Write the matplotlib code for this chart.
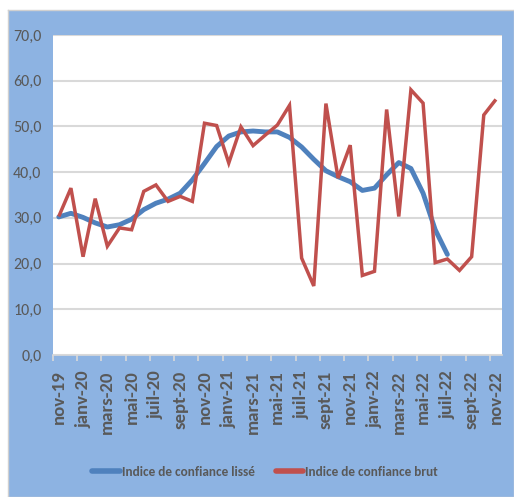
import matplotlib
matplotlib.use("Agg")
import matplotlib.pyplot as plt
from matplotlib import font_manager
import numpy as np

fam_names = {f.name for f in font_manager.fontManager.ttflist}
FAMILY = ['DejaVu Sans']
for cand in ['Carlito', 'Liberation Sans Narrow', 'Roboto Condensed', 'Open Sans Condensed',
             'Arial Narrow', 'Roboto', 'Liberation Sans']:
    if cand in fam_names:
        FAMILY = [cand, 'DejaVu Sans']
        break
plt.rcParams['font.family'] = FAMILY

months = ["nov-19", "déc-19", "janv-20", "févr-20", "mars-20", "avr-20", "mai-20", "juin-20",
          "juil-20", "août-20", "sept-20", "oct-20", "nov-20", "déc-20", "janv-21", "févr-21",
          "mars-21", "avr-21", "mai-21", "juin-21", "juil-21", "août-21", "sept-21", "oct-21",
          "nov-21", "déc-21", "janv-22", "févr-22", "mars-22", "avr-22", "mai-22", "juin-22",
          "juil-22", "août-22", "sept-22", "oct-22", "nov-22"]

lisse = [30.2, 31.0, 30.1, 28.9, 28.0, 28.5, 29.7, 31.8, 33.2, 34.1, 35.4, 38.3,
         41.9, 45.6, 47.9, 48.8, 49.0, 48.8, 48.8, 47.6, 45.5, 42.8, 40.3, 39.0,
         37.9, 36.0, 36.5, 39.4, 42.1, 40.8, 35.4, 27.4, 22.0]

brut = [30.3, 36.5, 21.5, 34.2, 23.8, 27.8, 27.4, 35.8, 37.2, 33.6, 34.7, 33.6,
        50.7, 50.2, 42.0, 49.9, 45.8, 48.1, 50.3, 54.6, 21.2, 15.1, 55.0, 38.7,
        45.9, 17.4, 18.3, 53.7, 30.3, 58.0, 55.1, 20.2, 21.0, 18.5, 21.5, 52.5, 55.9]

yticks = [0, 10, 20, 30, 40, 50, 60, 70]

TXT = '#595959'

fig = plt.figure(figsize=(5.14, 4.97), dpi=100)
fig.patch.set_facecolor('white')

bg = fig.add_axes([8 / 514, 0, 1 - 8 / 514, 1 - 10 / 497], zorder=-5)
bg.set_facecolor('#8DB3E2')
bg.set_xticks([])
bg.set_yticks([])
for s in bg.spines.values():
    s.set_color('#D0D0D0')
    s.set_linewidth(1)

ax = fig.add_axes([52.7 / 514, 1 - 355 / 497, (502 - 52.7) / 514, 320 / 497], zorder=1)
ax.set_facecolor('white')

x_l = np.arange(len(lisse))
x_b = np.arange(len(brut))
ax.plot(x_l, lisse, color='#4F81BD', lw=3.5, solid_joinstyle='round', solid_capstyle='round',
        label='Indice de confiance lissé', zorder=3)
ax.plot(x_b, brut, color='#C0504D', lw=2.5, solid_joinstyle='miter', solid_capstyle='butt',
        label='Indice de confiance brut', zorder=4)

ax.set_xlim(-0.5, len(months) - 0.5)
ax.set_ylim(0, 70)
ax.set_yticks(yticks)
ax.set_yticklabels([f"{v},0" for v in yticks])
ax.yaxis.grid(True, color='#D9D9D9', lw=1.5)
ax.set_axisbelow(True)

ax.set_xticks(np.arange(0, len(months), 2))
ax.set_xticklabels([months[i] for i in range(0, len(months), 2)], rotation=90,
                   fontweight='bold')
ax.set_xticks(np.arange(-0.5, len(months), 2), minor=True)
ax.tick_params(axis='x', which='major', length=0, pad=11, labelsize=13.5, labelcolor=TXT)
ax.tick_params(axis='x', which='minor', length=4, color='#D9D9D9', width=1.2)
ax.tick_params(axis='y', length=0, pad=8, labelsize=11.5, labelcolor=TXT)

for s in ['top', 'right', 'left']:
    ax.spines[s].set_visible(False)
ax.spines['bottom'].set_color('#D9D9D9')
ax.spines['bottom'].set_linewidth(1.2)

leg = fig.legend(*ax.get_legend_handles_labels(), loc='center',
                 bbox_to_anchor=(265 / 514, 1 - 472 / 497), ncol=2, frameon=False,
                 prop={'size': 9.5, 'weight': 'bold'}, handlelength=2.1,
                 handletextpad=0.15, columnspacing=1.6)
for t in leg.get_texts():
    t.set_color(TXT)
for h in leg.legend_handles:
    h.set_linewidth(4)
    h.set_solid_capstyle('round')

fig.savefig('out.png', dpi=100)
